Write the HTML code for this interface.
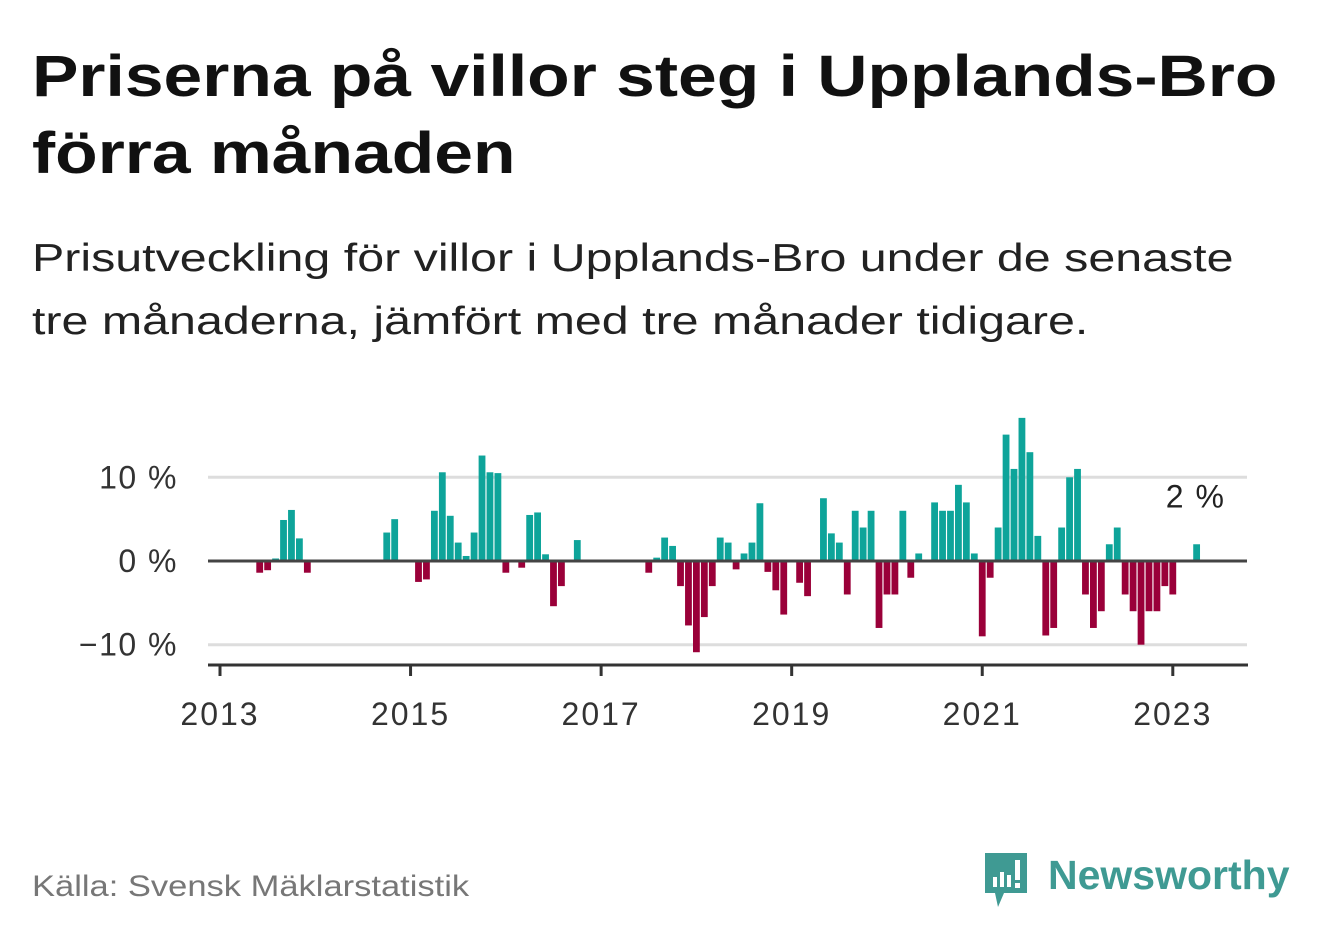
<!DOCTYPE html>
<html><head><meta charset="utf-8">
<style>
body{margin:0;width:1322px;height:939px;background:#fff;font-family:"Liberation Sans",sans-serif;overflow:hidden;position:relative}
.t{position:absolute;left:32px;top:38px;font-size:58px;font-weight:bold;line-height:77px;color:#111;transform:scaleX(1.2);transform-origin:0 0;white-space:nowrap}
.s{position:absolute;left:32px;top:227px;font-size:39px;line-height:63px;color:#222;transform:scaleX(1.24);transform-origin:0 0;white-space:nowrap}
.src{position:absolute;left:32px;top:870px;font-size:30px;color:#777;transform:scaleX(1.15);transform-origin:0 0;white-space:nowrap}
</style></head><body>
<div class="t">Priserna på villor steg i Upplands-Bro<br>förra månaden</div>
<div class="s">Prisutveckling för villor i Upplands-Bro under de senaste<br>tre månaderna, jämfört med tre månader tidigare.</div>
<svg id="ch" width="1322" height="939" style="position:absolute;left:0;top:0"></svg>
<div class="src">Källa: Svensk Mäklarstatistik</div>
<div style="position:absolute;left:982px;top:850px;width:320px;height:60px">
<svg width="50" height="60" style="position:absolute;left:0;top:0"><path d="M3 3h42v40H22l-6 14-3-14H3z" fill="#3f9a93"/><rect x="11" y="27" width="4" height="10" fill="#fff"/><rect x="18" y="22" width="4" height="15" fill="#fff"/><rect x="25" y="25" width="4" height="12" fill="#fff"/><rect x="33" y="10" width="5" height="20" fill="#fff"/><rect x="33" y="33" width="5" height="5" fill="#fff"/></svg>
<span style="position:absolute;left:66px;top:2px;font-size:41px;font-weight:bold;color:#3f9a93;line-height:46px">Newsworthy</span></div>
<script>
const startYear=2013;
const values=[0,0,0,0,0,-1.4,-1.1,0.3,4.9,6.1,2.7,-1.4,
0,0,0,0,0,0,0,0,0,3.4,5.0,0,
0,-2.5,-2.2,6.0,10.6,5.4,2.2,0.6,3.4,12.6,10.6,10.5,
-1.4,0,-0.8,5.5,5.8,0.8,-5.4,-3.0,0,2.5,0,0,
0,0,0,0,0,0,-1.4,0.4,2.8,1.8,-3.0,-7.7,
-10.9,-6.7,-3.0,2.8,2.2,-1.0,0.9,2.2,6.9,-1.3,-3.5,-6.4,
0,-2.6,-4.2,0,7.5,3.3,2.2,-4.0,6.0,4.0,6.0,-8.0,
-4.0,-4.0,6.0,-2.0,0.9,0,7.0,6.0,6.0,9.1,7.0,0.9,
-9.0,-2.0,4.0,15.1,11.0,17.1,13.0,3.0,-8.9,-8.0,4.0,10.0,
11.0,-4.0,-8.0,-6.0,2.0,4.0,-4.0,-6.0,-10.0,-6.0,-6.0,-3.0,
-4.0,0,0,2.0];
const yTicks=[10,0,-10];
const yTickLabels=["10 %","0 %","−10 %"];
const xTicks=[2013,2015,2017,2019,2021,2023];
const lastLabel="2 %";
const svg=document.getElementById('ch');
const NS="http://www.w3.org/2000/svg";
const x=m=>220+m*7.94;
const y=v=>561-v*8.37;
function mk(t,a){const e=document.createElementNS(NS,t);for(const k in a)e.setAttribute(k,a[k]);svg.appendChild(e);return e;}
yTicks.forEach((v,i)=>{
 if(v!==0){const g=mk('line',{x1:208,x2:1247,y1:y(v),y2:y(v),stroke:'#ddd','stroke-width':3});
 
 }
 const t=mk('text',{x:178,y:y(v)+11,'text-anchor':'end','font-size':32,'letter-spacing':1.5,fill:'#333','font-family':'Liberation Sans, sans-serif'});
 t.textContent=yTickLabels[i];
 
 
});
values.forEach((v,m)=>{
 if(!v)return;
 const r=mk('rect',{x:x(m)-3.4,width:6.8,y:v>0?y(v):y(0),height:Math.abs(y(v)-y(0)),fill:v>0?'#0ea49a':'#9a0039'});
 
 
});
const z=mk('line',{x1:208,x2:1247,y1:y(0),y2:y(0),stroke:'#444','stroke-width':3});


const ax=mk('line',{x1:208,x2:1248,y1:665,y2:665,stroke:'#333','stroke-width':3});


xTicks.forEach(yr=>{
 const xx=x((yr-startYear)*12);
 const tk=mk('line',{x1:xx,x2:xx,y1:665,y2:676,stroke:'#333','stroke-width':3});
 
 
 const t=mk('text',{x:xx,y:725,'text-anchor':'middle','font-size':32,'letter-spacing':2,fill:'#333','font-family':'Liberation Sans, sans-serif'});
 t.textContent=yr;
 
 
});
const li=values.length-1;
const a=mk('text',{x:x(li)-1,y:y(values[li])-37,'text-anchor':'middle','font-size':32,'letter-spacing':1.5,fill:'#222','font-family':'Liberation Sans, sans-serif'});
a.textContent=lastLabel;


</script>
</body></html>
